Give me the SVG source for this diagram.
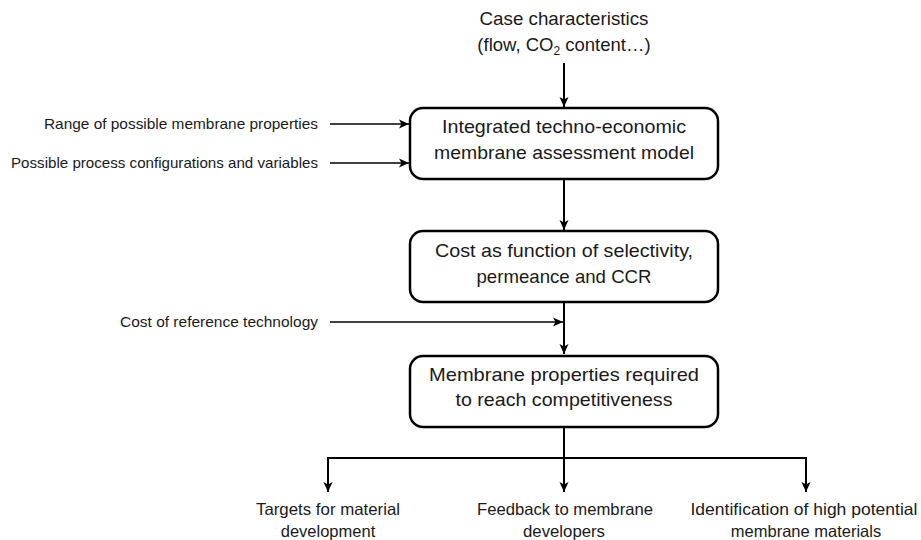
<svg xmlns="http://www.w3.org/2000/svg" width="921" height="540" viewBox="0 0 921 540">
<style>
.t{font-family:"Liberation Sans",Arial,sans-serif;fill:#1a1a1a}
.big{font-size:18.5px}
.mid{font-size:16.5px}
.sm{font-size:15px}
.box{fill:#fff;stroke:#000;stroke-width:2.5}
.c{fill:none;stroke:#000;stroke-width:2}
.ci{fill:none;stroke:#000;stroke-width:1.6}
</style>
<defs>
<marker id="ah" markerUnits="userSpaceOnUse" markerWidth="12" markerHeight="10" refX="10" refY="5" orient="auto">
<path d="M0,0.5 L10,5 L0,9.5 L2.5,5 Z" fill="#000"/>
</marker>
</defs>
<rect width="921" height="540" fill="#fff"/>
<g id="connectors">
<path class="c" d="M564 63 V107" marker-end="url(#ah)"/>
<path class="ci" d="M330 124 H409" marker-end="url(#ah)"/>
<path class="ci" d="M330 163 H409" marker-end="url(#ah)"/>
<path class="c" d="M564 179 V230" marker-end="url(#ah)"/>
<path class="c" d="M564 302 V354" marker-end="url(#ah)"/>
<path class="ci" d="M330 322 H563" marker-end="url(#ah)"/>
<path class="c" d="M564 427 V458"/>
<path class="c" d="M328 458 H806"/>
<path class="c" d="M328 457 V492" marker-end="url(#ah)"/>
<path class="c" d="M564 457 V492" marker-end="url(#ah)"/>
<path class="c" d="M806 457 V492" marker-end="url(#ah)"/>
</g>
<g id="case">
<text class="t big" x="564" y="25" text-anchor="middle" textLength="169" lengthAdjust="spacingAndGlyphs">Case characteristics</text>
<text class="t big" x="564" y="51" text-anchor="middle">(flow, CO<tspan font-size="12" dy="4">2</tspan><tspan dy="-4"> content…)</tspan></text>
</g>
<g id="range">
<text class="t sm" x="318" y="129" text-anchor="end" textLength="274" lengthAdjust="spacingAndGlyphs">Range of possible membrane properties</text>
</g>
<g id="process">
<text class="t sm" x="318" y="168" text-anchor="end" textLength="307" lengthAdjust="spacingAndGlyphs">Possible process configurations and variables</text>
</g>
<g id="model">
<rect class="box" x="410" y="108" width="308" height="71" rx="13"/>
<text class="t big" x="564" y="133" text-anchor="middle" textLength="244" lengthAdjust="spacingAndGlyphs">Integrated techno-economic</text>
<text class="t big" x="564" y="159" text-anchor="middle" textLength="260" lengthAdjust="spacingAndGlyphs">membrane assessment model</text>
</g>
<g id="cost">
<rect class="box" x="410" y="231" width="308" height="71" rx="13"/>
<text class="t big" x="564" y="257" text-anchor="middle" textLength="258" lengthAdjust="spacingAndGlyphs">Cost as function of selectivity,</text>
<text class="t big" x="564" y="283" text-anchor="middle" textLength="175" lengthAdjust="spacingAndGlyphs">permeance and CCR</text>
</g>
<g id="reference">
<text class="t sm" x="318" y="327" text-anchor="end" textLength="198" lengthAdjust="spacingAndGlyphs">Cost of reference technology</text>
</g>
<g id="required">
<rect class="box" x="410" y="356" width="308" height="71" rx="13"/>
<text class="t big" x="564" y="381" text-anchor="middle" textLength="270" lengthAdjust="spacingAndGlyphs">Membrane properties required</text>
<text class="t big" x="564" y="406" text-anchor="middle" textLength="217" lengthAdjust="spacingAndGlyphs">to reach competitiveness</text>
</g>
<g id="targets">
<text class="t mid" x="328" y="515" text-anchor="middle" textLength="144" lengthAdjust="spacingAndGlyphs">Targets for material</text>
<text class="t mid" x="328" y="537" text-anchor="middle">development</text>
</g>
<g id="feedback">
<text class="t mid" x="565" y="515" text-anchor="middle" textLength="176" lengthAdjust="spacingAndGlyphs">Feedback to membrane</text>
<text class="t mid" x="564" y="537" text-anchor="middle" textLength="82" lengthAdjust="spacingAndGlyphs">developers</text>
</g>
<g id="identification">
<text class="t mid" x="804" y="515" text-anchor="middle" textLength="227" lengthAdjust="spacingAndGlyphs">Identification of high potential</text>
<text class="t mid" x="806" y="537" text-anchor="middle">membrane materials</text>
</g>
</svg>
